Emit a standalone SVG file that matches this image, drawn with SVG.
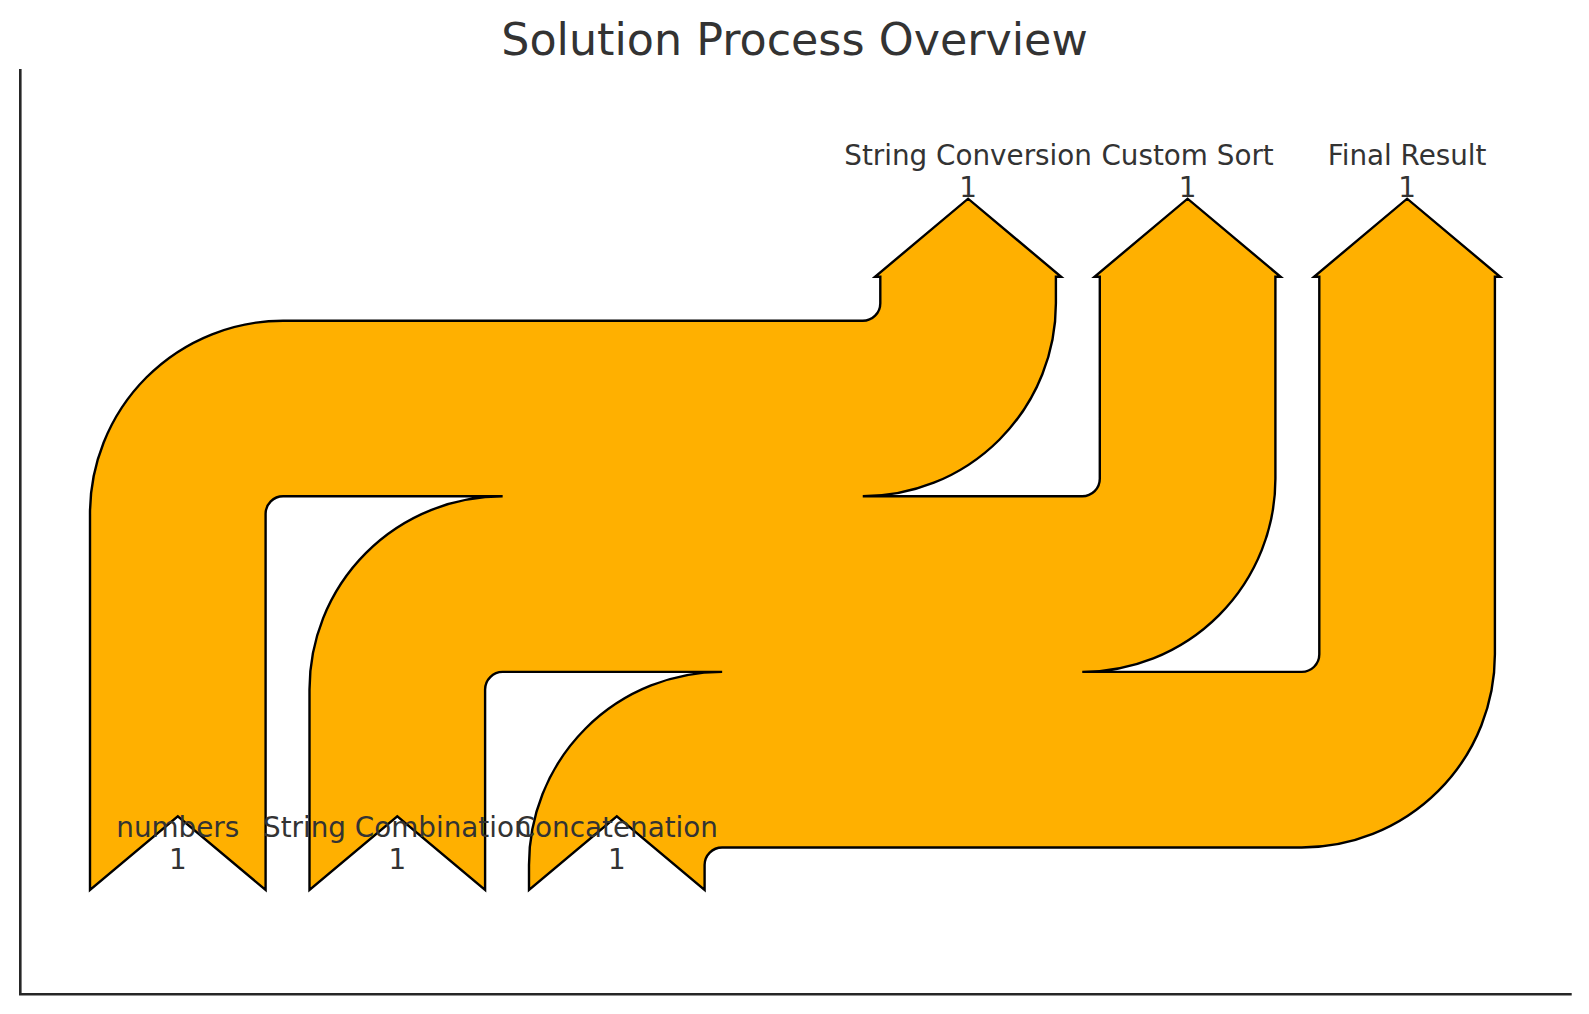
<svg xmlns="http://www.w3.org/2000/svg" width="1589" height="1014" viewBox="0 0 1589 1014">
<style>
.lbl{font-family:"DejaVu Sans","Liberation Sans",sans-serif;font-size:27.8px;fill:#333333;text-anchor:middle}
.title{font-family:"DejaVu Sans","Liberation Sans",sans-serif;font-size:44.4px;fill:#333333;text-anchor:middle}
.flow{fill:#FFB000;stroke:#000000;stroke-width:2.4;stroke-linejoin:miter}
.spine{fill:none;stroke:#262626;stroke-width:2.6}
</style>
<rect x="0" y="0" width="1589" height="1014" fill="#ffffff"/>
<text class="title" x="794.5" y="55">Solution Process Overview</text>
<path class="spine" d="M20.3 69 V994.3 H1571.7"/>
<g id="connectors">
<path id="sankey-flow" class="flow" d="M283.16 320.7 H862.74 A17.56 17.56 0 0 0 880.3 303.14 V276.8 H875.03 L968.1 198.7 L1061.17 276.8 H1055.9 V303.14 A193.16 193.16 0 0 1 862.74 496.3 H1082.24 A17.56 17.56 0 0 0 1099.8 478.74 V276.8 H1094.53 L1187.6 198.7 L1280.67 276.8 H1275.4 V478.74 A193.16 193.16 0 0 1 1082.24 671.9 H1301.74 A17.56 17.56 0 0 0 1319.3 654.34 V276.8 H1314.03 L1407.1 198.7 L1500.17 276.8 H1494.9 V654.34 A193.16 193.16 0 0 1 1301.74 847.5 H722.16 A17.56 17.56 0 0 0 704.6 865.06 V890 L616.8 816.3 L529 890 V865.06 A193.16 193.16 0 0 1 722.16 671.9 H502.66 A17.56 17.56 0 0 0 485.1 689.46 V890 L397.3 816.3 L309.5 890 V689.46 A193.16 193.16 0 0 1 502.66 496.3 H283.16 A17.56 17.56 0 0 0 265.6 513.86 V890 L177.8 816.3 L90 890 V513.86 A193.16 193.16 0 0 1 283.16 320.7 Z"/>
</g>
<g id="node-numbers"><text class="lbl" x="177.8" y="836.7">numbers</text><text class="lbl" x="177.8" y="869">1</text></g>
<g id="node-string-combination"><text class="lbl" x="397.3" y="836.7">String Combination</text><text class="lbl" x="397.3" y="869">1</text></g>
<g id="node-concatenation"><text class="lbl" x="616.8" y="836.7">Concatenation</text><text class="lbl" x="616.8" y="869">1</text></g>
<g id="node-string-conversion"><text class="lbl" x="968.1" y="165">String Conversion</text><text class="lbl" x="968.1" y="196.7">1</text></g>
<g id="node-custom-sort"><text class="lbl" x="1187.6" y="165">Custom Sort</text><text class="lbl" x="1187.6" y="196.7">1</text></g>
<g id="node-final-result"><text class="lbl" x="1407.1" y="165">Final Result</text><text class="lbl" x="1407.1" y="196.7">1</text></g>
</svg>
